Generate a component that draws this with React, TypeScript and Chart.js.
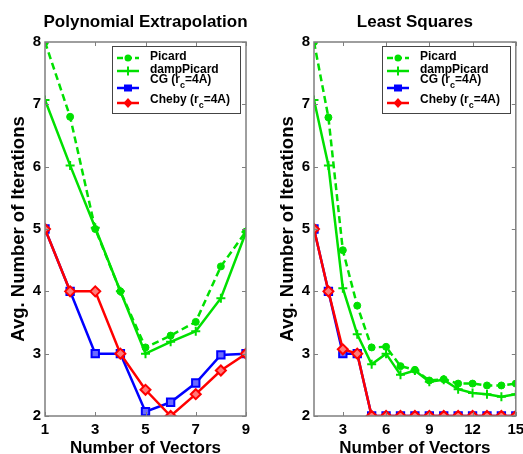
import React, { useEffect, useRef } from "react";
import { Chart, registerables } from "chart.js";

Chart.register(...registerables);

// ---------- data ----------
const xLeft = [1, 2, 3, 4, 5, 6, 7, 8, 9];
const picardLeft = [8, 6.8, 5, 4, 3.1, 3.29, 3.51, 4.4, 4.96];
const dampLeft = [7.07, 6.02, 5.02, 4.0, 3.0, 3.19, 3.36, 3.89, 4.95];
const cgLeft = [5, 4, 3, 3, 2.07, 2.22, 2.53, 2.98, 3.0];
const chebyLeft = [5, 4, 4, 3, 2.42, 2.0, 2.35, 2.73, 3.0];

const xRight = [1, 2, 3, 4, 5, 6, 7, 8, 9, 10, 11, 12, 13, 14, 15];
const picardRight = [8, 6.79, 4.66, 3.77, 3.1, 3.11, 2.8, 2.74, 2.57, 2.59, 2.52, 2.52, 2.49, 2.49, 2.52];
const dampRight = [7.07, 6.02, 4.05, 3.31, 2.83, 3.0, 2.66, 2.73, 2.55, 2.58, 2.43, 2.37, 2.35, 2.31, 2.35];
const cgRight = [5, 4, 3, 3, 2, 2, 2, 2, 2, 2, 2, 2, 2, 2, 2];
const chebyRight = [5, 4, 3.07, 3, 2, 2, 2, 2, 2, 2, 2, 2, 2, 2, 2];

const xTicksLeft = [1, 3, 5, 7, 9];
const xTicksRight = [3, 6, 9, 12, 15];
const yTicks = [2, 3, 4, 5, 6, 7, 8];

const titleLeft = "Polynomial Extrapolation";
const titleRight = "Least Squares";
const xAxisTitle = "Number of Vectors";
const yAxisTitle = "Avg. Number of Iterations";
const seriesNames = ["Picard", "dampPicard", "CG (r", "Cheby (r"];

// ---------- style ----------
const GREEN = "#00e000";
const BLUE = "#0000ff";
const RED = "#ff0000";
const FONT = '"Liberation Sans", Arial, Helvetica, sans-serif';

type PanelCfg = {
  title: string;
  xs: number[];
  picard: number[];
  damp: number[];
  cg: number[];
  cheby: number[];
  xMin: number;
  xMax: number;
  xTicks: number[];
  width: number;
  yAxisWidth: number;
  padRight: number;
  yTitleX: number;
};

function pts(xs: number[], ys: number[]) {
  return xs.map((x, i) => ({ x, y: ys[i] }));
}

function drawMarker(ctx: CanvasRenderingContext2D, kind: string, x: number, y: number, color: string) {
  ctx.save();
  ctx.fillStyle = color;
  ctx.strokeStyle = color;
  ctx.lineWidth = 2;
  ctx.setLineDash([]);
  ctx.beginPath();
  if (kind === "circle") {
    ctx.arc(x, y, 3.5, 0, Math.PI * 2);
    ctx.fill();
  } else if (kind === "cross") {
    ctx.moveTo(x - 4.5, y);
    ctx.lineTo(x + 4.5, y);
    ctx.moveTo(x, y - 4.5);
    ctx.lineTo(x, y + 4.5);
    ctx.stroke();
  } else if (kind === "rect") {
    ctx.rect(x - 4, y - 3.5, 8, 7);
    ctx.fill();
  } else if (kind === "diamond") {
    ctx.moveTo(x, y - 5);
    ctx.lineTo(x + 4.5, y);
    ctx.lineTo(x, y + 5);
    ctx.lineTo(x - 4.5, y);
    ctx.closePath();
    ctx.fill();
  }
  ctx.restore();
}

function decor(cfg: PanelCfg) {
  return {
    id: "decor",
    afterDraw(chart: any) {
      const ctx: CanvasRenderingContext2D = chart.ctx;
      const a = chart.chartArea;
      const xs = chart.scales.x;
      const ys = chart.scales.y;
      ctx.save();
      // frame
      ctx.strokeStyle = "#7f7f7f";
      ctx.lineWidth = 1.5;
      ctx.strokeRect(a.left, a.top, a.right - a.left, a.bottom - a.top);
      // inward ticks
      ctx.lineWidth = 1;
      ctx.beginPath();
      cfg.xTicks.forEach((v) => {
        const p = Math.round(xs.getPixelForValue(v)) + 0.5;
        ctx.moveTo(p, a.bottom);
        ctx.lineTo(p, a.bottom - 4);
        ctx.moveTo(p, a.top);
        ctx.lineTo(p, a.top + 4);
      });
      yTicks.forEach((v) => {
        const p = Math.round(ys.getPixelForValue(v)) + 0.5;
        ctx.moveTo(a.left, p);
        ctx.lineTo(a.left + 4, p);
        ctx.moveTo(a.right, p);
        ctx.lineTo(a.right - 4, p);
      });
      ctx.stroke();

      // titles
      ctx.fillStyle = "#000";
      ctx.font = `bold 17px ${FONT}`;
      ctx.textAlign = "center";
      ctx.textBaseline = "alphabetic";
      const cx = (a.left + a.right) / 2;
      ctx.fillText(cfg.title, cx, 27);
      ctx.fillText(xAxisTitle, cx, 453);
      ctx.save();
      ctx.font = `bold 18.5px ${FONT}`;
      ctx.translate(cfg.yTitleX, (a.top + a.bottom) / 2);
      ctx.rotate(-Math.PI / 2);
      ctx.textBaseline = "middle";
      ctx.fillText(yAxisTitle, 0, 0);
      ctx.restore();

      // legend
      const bw = 128;
      const bh = 67;
      const bx = Math.round(a.right - 6 - bw);
      const by = Math.round(a.top + 4);
      ctx.fillStyle = "#fff";
      ctx.fillRect(bx, by, bw, bh);
      ctx.strokeStyle = "#444";
      ctx.lineWidth = 1;
      ctx.strokeRect(bx + 0.5, by + 0.5, bw, bh);

      const rows = [
        { name: seriesNames[0], sub: false, color: GREEN, dash: true, marker: "circle", lineY: 12, baseY: 14 },
        { name: seriesNames[1], sub: false, color: GREEN, dash: false, marker: "cross", lineY: 25, baseY: 27 },
        { name: seriesNames[2], sub: true, color: BLUE, dash: false, marker: "rect", lineY: 42, baseY: 37 },
        { name: seriesNames[3], sub: true, color: RED, dash: false, marker: "diamond", lineY: 57, baseY: 57 },
      ];
      rows.forEach((r) => {
        const ly = by + r.lineY;
        ctx.save();
        ctx.strokeStyle = r.color;
        ctx.lineWidth = 2.5;
        ctx.setLineDash(r.dash ? [6, 3] : []);
        ctx.beginPath();
        ctx.moveTo(bx + 5, ly);
        ctx.lineTo(bx + 27, ly);
        ctx.stroke();
        ctx.restore();
        drawMarker(ctx, r.marker, bx + 16, ly, r.color);

        ctx.fillStyle = "#000";
        ctx.textAlign = "left";
        ctx.textBaseline = "alphabetic";
        ctx.font = `bold 12px ${FONT}`;
        const tx = bx + 38;
        const ty = by + r.baseY;
        ctx.fillText(r.name, tx, ty);
        if (r.sub) {
          let w = ctx.measureText(r.name).width;
          ctx.font = `bold 9px ${FONT}`;
          ctx.fillText("c", tx + w, ty + 5);
          w += ctx.measureText("c").width;
          ctx.font = `bold 12px ${FONT}`;
          ctx.fillText("=4A)", tx + w, ty);
        }
      });
      ctx.restore();
    },
  };
}

function buildConfig(cfg: PanelCfg): any {
  const tickFont = { family: FONT, size: 15, weight: "bold" as const };
  return {
    type: "line",
    data: {
      datasets: [
        {
          label: "Picard",
          data: pts(cfg.xs, cfg.picard),
          borderColor: GREEN,
          borderWidth: 2.5,
          borderDash: [7, 4],
          pointStyle: "circle",
          pointRadius: 3.5,
          pointBackgroundColor: GREEN,
          pointBorderColor: GREEN,
          pointBorderWidth: 1,
          order: 3,
        },
        {
          label: "dampPicard",
          data: pts(cfg.xs, cfg.damp),
          borderColor: GREEN,
          borderWidth: 2.5,
          pointStyle: "cross",
          pointRadius: 4.5,
          pointBorderColor: GREEN,
          pointBorderWidth: 2,
          order: 2,
        },
        {
          label: "CG",
          data: pts(cfg.xs, cfg.cg),
          borderColor: BLUE,
          borderWidth: 2.5,
          pointStyle: "rect",
          pointRadius: 5.2,
          pointBackgroundColor: "#6b6bff",
          pointBorderColor: BLUE,
          pointBorderWidth: 2,
          order: 1,
        },
        {
          label: "Cheby",
          data: pts(cfg.xs, cfg.cheby),
          borderColor: RED,
          borderWidth: 2.5,
          pointStyle: "rectRot",
          pointRadius: 5,
          pointBackgroundColor: "#ff7a7a",
          pointBorderColor: RED,
          pointBorderWidth: 2,
          order: 0,
        },
      ],
    },
    options: {
      animation: false,
      responsive: false,
      maintainAspectRatio: false,
      devicePixelRatio: 1,
      layout: { padding: { top: 42, right: cfg.padRight, left: 0, bottom: 0 } },
      plugins: {
        legend: { display: false },
        tooltip: { enabled: false },
        title: { display: false },
      },
      scales: {
        x: {
          type: "linear",
          min: cfg.xMin,
          max: cfg.xMax,
          grid: { display: false, drawTicks: false },
          border: { display: false },
          ticks: { font: tickFont, color: "#000", padding: 5, maxRotation: 0, autoSkip: false },
          afterBuildTicks: (s: any) => {
            s.ticks = cfg.xTicks.map((v) => ({ value: v }));
          },
          afterFit: (s: any) => {
            s.height = 38;
            s.paddingLeft = 0;
            s.paddingRight = 0;
          },
        },
        y: {
          type: "linear",
          min: 2,
          max: 8,
          grid: { display: false, drawTicks: false },
          border: { display: false },
          ticks: { font: tickFont, color: "#000", padding: 4, autoSkip: false },
          afterBuildTicks: (s: any) => {
            s.ticks = yTicks.map((v) => ({ value: v }));
          },
          afterFit: (s: any) => {
            s.width = cfg.yAxisWidth;
            s.paddingTop = 0;
            s.paddingBottom = 0;
          },
        },
      },
    },
    plugins: [decor(cfg)],
  };
}

const leftCfg: PanelCfg = {
  title: titleLeft,
  xs: xLeft,
  picard: picardLeft,
  damp: dampLeft,
  cg: cgLeft,
  cheby: chebyLeft,
  xMin: 1,
  xMax: 9,
  xTicks: xTicksLeft,
  width: 262,
  yAxisWidth: 45,
  padRight: 16,
  yTitleX: 18.5,
};

const rightCfg: PanelCfg = {
  title: titleRight,
  xs: xRight,
  picard: picardRight,
  damp: dampRight,
  cg: cgRight,
  cheby: chebyRight,
  xMin: 1,
  xMax: 15,
  xTicks: xTicksRight,
  width: 261,
  yAxisWidth: 52,
  padRight: 7,
  yTitleX: 26,
};

function Panel({ cfg, left }: { cfg: PanelCfg; left: number }) {
  const ref = useRef<HTMLCanvasElement>(null);
  useEffect(() => {
    if (!ref.current) return;
    const chart = new Chart(ref.current, buildConfig(cfg));
    return () => chart.destroy();
  }, [cfg]);
  return (
    <canvas
      ref={ref}
      width={cfg.width}
      height={454}
      style={{ position: "absolute", left, top: 0, width: cfg.width, height: 454 }}
    />
  );
}

export default function App() {
  return (
    <div
      style={{
        position: "absolute",
        left: 0,
        top: 0,
        width: 523,
        height: 454,
        background: "#fff",
        overflow: "hidden",
      }}
    >
      <Panel cfg={leftCfg} left={0} />
      <Panel cfg={rightCfg} left={262} />
    </div>
  );
}
